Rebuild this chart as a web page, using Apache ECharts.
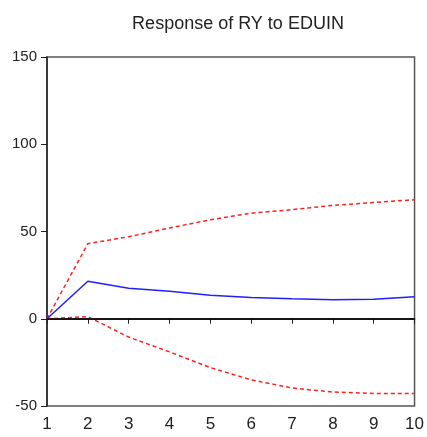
<!DOCTYPE html>
<html><head><meta charset="utf-8">
<script src="https://cdn.jsdelivr.net/npm/echarts@6/dist/echarts.min.js"></script>
<style>html,body{margin:0;padding:0;background:#fff}#c{width:427px;height:437px}</style>
</head><body><div id="c"></div>
<script>
const periods = ['1','2','3','4','5','6','7','8','9','10'];
const response = [0, 21.5, 17.5, 15.8, 13.5, 12.2, 11.5, 10.9, 11.2, 12.6];
const upperBand = [0, 43, 47, 52, 56.7, 60.5, 62.5, 65, 66.6, 68.2];
const lowerBand = [0, 1.2, -10.5, -19, -28, -35, -39.7, -42, -42.8, -42.8];
const yTicks = [-50, 0, 50, 100, 150];

const font = '"Liberation Sans Narrow","Liberation Sans",Arial,sans-serif';
const chart = echarts.init(document.getElementById('c'));
chart.setOption({
  animation: false,
  title: {text: 'Response of RY to EDUIN', left: 233, top: 10, textAlign: 'center',
    textStyle: {fontFamily: font, fontSize: 18, fontWeight: 'normal', color: '#222'}},
  grid: {left: 47, right: 9, top: 57, bottom: 31, show: true, borderColor: '#555', borderWidth: 1.5},
  xAxis: {type: 'category', data: periods, boundaryGap: false,
    axisLine: {lineStyle: {color: '#222', width: 1.5}},
    axisTick: {show: true, length: 5, lineStyle: {color: '#222'}},
    axisLabel: {fontFamily: font, fontSize: 17, color: '#222', margin: 10},
    splitLine: {show: false}},
  yAxis: {type: 'value', min: yTicks[0], max: yTicks[yTicks.length-1], interval: 50,
    axisLine: {show: true, onZero: false, lineStyle: {color: '#222', width: 1.5}},
    axisTick: {show: true, length: 6, lineStyle: {color: '#222'}},
    axisLabel: {fontFamily: font, fontSize: 15, color: '#222', margin: 10},
    splitLine: {show: false}},
  series: [
    {type: 'line', data: upperBand, symbol: 'none', lineStyle: {color: '#ff2020', width: 1.5, type: [4, 3]},
      markLine: {silent: true, symbol: 'none', label: {show: false},
        lineStyle: {color: '#000', width: 1.5, type: 'solid'}, data: [{yAxis: 0}]}},
    {type: 'line', data: lowerBand, symbol: 'none', lineStyle: {color: '#ff2020', width: 1.5, type: [4, 3]}},
    {type: 'line', data: response, symbol: 'none', lineStyle: {color: '#2020ff', width: 1.5}}
  ]
});
</script></body></html>
